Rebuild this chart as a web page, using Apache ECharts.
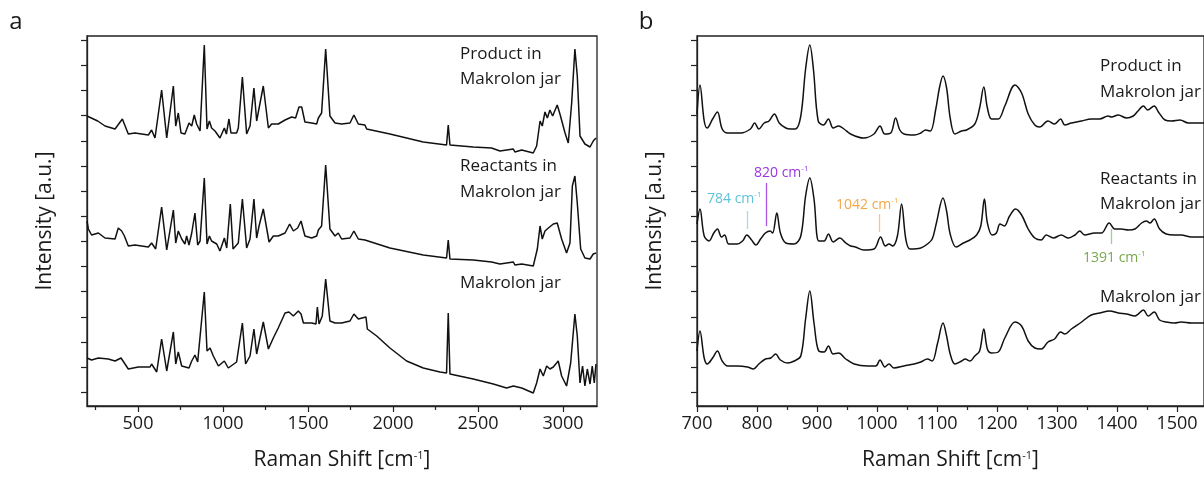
<!DOCTYPE html>
<html>
<head>
<meta charset="utf-8">
<script src="https://cdn.jsdelivr.net/npm/echarts@6/dist/echarts.min.js"></script>
<style>
html,body{margin:0;padding:0;background:#fff;}
#chart{width:1204px;height:479px;}
</style>
</head>
<body>
<div id="chart"></div>
<script>
// ---- Data (wavenumber [cm-1], offset intensity [a.u.]) ----
const seriesNames = ['Product in Makrolon jar', 'Reactants in Makrolon jar', 'Makrolon jar'];

// Panel a: full range
const prodA = [[200,290],[263,285],[306,280],[365,277],[408,287],[443,272],[482,273],[561,271],[580,276],[600,268],[639,316],[669,268],[708,320],[722,280],[737,293],[753,273],[776,272],[800,283],[816,280],[831,291],[845,282],[865,275],[890,361],[906,277],[920,285],[933,278],[953,275],[982,268],[1008,278],[1020,272],[1035,287],[1047,273],[1080,273],[1090,278],[1114,329],[1139,272],[1159,280],[1182,318],[1198,285],[1237,320],[1267,278],[1286,282],[1325,282],[1365,286],[1404,289],[1427,288],[1447,299],[1463,299],[1482,284],[1522,283],[1551,282],[1561,288],[1580,293],[1604,357],[1629,290],[1659,283],[1698,282],[1747,283],[1770,291],[1796,282],[1835,281],[1845,277],[1982,272],[2178,264],[2315,261],[2325,281],[2335,261],[2472,259],[2580,258],[2629,255],[2708,257],[2717,254],[2757,256],[2825,253],[2845,260],[2865,285],[2878,280],[2894,294],[2908,288],[2923,296],[2939,290],[2966,301],[2982,292],[3012,273],[3031,263],[3051,303],[3070,357],[3084,330],[3100,270],[3129,262],[3159,259],[3178,265],[3194,268]];
const reacA = [[200,185],[208,177],[227,171],[267,173],[306,168],[365,167],[384,178],[404,175],[420,170],[443,160],[482,161],[561,159],[580,163],[604,157],[639,199],[669,156],[708,196],[722,163],[737,175],[757,167],[776,162],[786,170],[800,161],[816,173],[835,193],[851,161],[865,165],[890,228],[906,162],[920,170],[933,165],[963,162],[982,155],[1008,168],[1022,158],[1043,202],[1059,157],[1090,163],[1114,207],[1139,158],[1159,167],[1182,207],[1198,168],[1212,180],[1237,197],[1271,164],[1296,170],[1325,170],[1365,173],[1392,182],[1414,175],[1439,178],[1459,185],[1482,170],[1522,168],[1551,170],[1561,176],[1580,180],[1604,241],[1629,177],[1659,170],[1678,173],[1698,167],[1747,168],[1770,175],[1796,167],[1835,166],[1982,158],[2178,151],[2315,148],[2325,166],[2335,147],[2472,146],[2580,144],[2629,142],[2708,144],[2717,141],[2757,142],[2825,140],[2849,157],[2865,180],[2878,167],[2894,175],[2914,178],[2943,182],[2966,183],[2992,167],[3021,153],[3041,163],[3055,220],[3070,230],[3084,203],[3104,157],[3129,148],[3159,147],[3178,152],[3194,153]];
const makA = [[200,48],[227,46],[267,48],[325,47],[365,45],[400,48],[443,37],[502,39],[571,39],[580,42],[610,34],[639,67],[669,35],[708,74],[722,42],[737,54],[757,40],[800,38],[816,45],[835,51],[851,44],[890,114],[906,55],[924,58],[943,50],[973,40],[1008,45],[1031,38],[1080,44],[1114,83],[1133,42],[1159,50],[1182,77],[1198,52],[1237,84],[1267,57],[1296,68],[1325,78],[1365,93],[1388,94],[1414,90],[1443,95],[1459,92],[1473,83],[1522,83],[1547,82],[1555,99],[1565,82],[1584,90],[1604,127],[1629,85],[1659,83],[1698,83],[1747,85],[1770,92],[1796,87],[1841,89],[1849,77],[1904,70],[1982,58],[2080,45],[2178,38],[2276,34],[2315,33],[2325,93],[2335,32],[2472,27],[2590,22],[2668,18],[2708,20],[2757,18],[2825,13],[2845,23],[2865,37],[2884,30],[2904,40],[2923,37],[2943,39],[2972,45],[2992,30],[3021,20],[3045,43],[3070,92],[3084,70],[3100,23],[3115,40],[3129,20],[3143,37],[3159,22],[3172,40],[3184,23],[3194,42]];

// Panel b: fingerprint region
const prodB = [[700,292],[705,321],[712,285],[717,278],[726,287],[734,294],[742,277],[751,273],[773,273],[789,277],[796,283],[803,277],[812,283],[820,285],[829,292],[837,283],[848,278],[856,277],[864,277],[873,290],[881,337],[888,361],[894,337],[902,285],[911,281],[919,287],[927,278],[936,280],[945,277],[956,272],[978,268],[995,272],[1005,280],[1013,272],[1023,273],[1031,288],[1038,276],[1045,272],[1062,271],[1073,273],[1081,276],[1089,275],[1098,297],[1104,318],[1110,330],[1116,318],[1122,288],[1130,272],[1141,275],[1149,276],[1163,282],[1171,298],[1178,319],[1184,298],[1191,287],[1202,287],[1213,300],[1230,321],[1241,313],[1252,292],[1263,281],[1271,279],[1285,285],[1296,282],[1306,287],[1313,281],[1324,283],[1341,285],[1357,287],[1371,287],[1385,290],[1391,289],[1402,291],[1416,288],[1427,290],[1435,295],[1444,300],[1451,296],[1462,300],[1469,294],[1480,286],[1491,285],[1505,286],[1519,283],[1535,283],[1545,283]];
const reacB = [[700,182],[705,197],[712,170],[720,165],[728,173],[734,177],[741,169],[746,171],[753,162],[767,162],[776,165],[783,171],[791,166],[798,161],[806,167],[814,173],[822,175],[826,173],[833,193],[839,173],[848,163],[862,162],[873,170],[881,210],[888,228],[895,207],[903,165],[912,165],[919,172],[927,164],[938,168],[948,163],[956,160],[964,159],[978,156],[995,157],[1006,169],[1014,160],[1020,162],[1026,160],[1034,170],[1041,202],[1048,167],[1055,157],[1073,158],[1084,162],[1092,167],[1099,183],[1110,208],[1116,195],[1122,172],[1132,159],[1144,163],[1155,166],[1166,171],[1173,180],[1179,207],[1184,183],[1192,171],[1199,173],[1205,182],[1212,180],[1221,190],[1231,197],[1241,191],[1252,177],[1263,168],[1274,166],[1282,171],[1294,168],[1307,171],[1319,168],[1330,171],[1338,175],[1346,171],[1363,173],[1374,173],[1387,183],[1396,177],[1407,177],[1419,176],[1430,177],[1441,183],[1449,185],[1455,183],[1462,187],[1471,177],[1482,172],[1496,171],[1507,171],[1524,169],[1545,169]];
const makB = [[700,55],[705,75],[712,48],[717,42],[726,48],[734,55],[742,45],[751,40],[767,40],[784,39],[794,37],[803,42],[814,47],[823,48],[831,52],[839,46],[851,43],[862,45],[873,50],[881,87],[888,115],[895,83],[903,55],[912,54],[919,60],[927,52],[936,53],[948,47],[962,42],[984,40],[998,40],[1005,46],[1013,39],[1020,42],[1028,38],[1045,40],[1062,42],[1073,44],[1084,47],[1092,45],[1101,63],[1110,83],[1116,70],[1122,52],[1130,42],[1141,45],[1147,47],[1155,45],[1163,50],[1171,55],[1178,77],[1184,57],[1191,53],[1202,54],[1213,68],[1230,84],[1241,80],[1252,65],[1263,58],[1274,57],[1285,64],[1296,67],[1306,74],[1313,72],[1324,77],[1341,84],[1357,91],[1371,93],[1388,95],[1402,93],[1416,92],[1430,90],[1444,96],[1452,90],[1462,94],[1471,86],[1482,84],[1496,83],[1507,84],[1524,83],[1545,83]];

// Tick labels / tick positions
const xLabelsA = [500, 1000, 1500, 2000, 2500, 3000];
const xMinorA = [250, 750, 1250, 1750, 2250, 2750];
const xLabelsB = [700, 800, 900, 1000, 1100, 1200, 1300, 1400, 1500];
const xMinorB = [750, 850, 950, 1050, 1150, 1250, 1350, 1450];
const yTicks = [14, 39, 64, 89, 115, 140, 165, 190, 215, 240, 265, 291, 316, 341, 366];

// Peak annotations in panel b
const peakLabels = ['784', '820', '1042', '1391'];
const peakPos = [783, 816, 1004, 1390];
const peakTop = [195, 223, 192, 177];
const peakBottom = [177, 180, 174, 162];
const peakColors = ['#5fc3d7', '#9b35df', '#f3a746', '#79a84c'];
const peakLineColors = ['#a6dbe6', '#a855e3', '#f6c38a', '#a9c894'];

const FONT = '"Open Sans", "Noto Sans", sans-serif';
const INK = '#1a1a1a';

const chart = echarts.init(document.getElementById('chart'), null, {renderer: 'canvas'});

function xMain(grid, min, max, labels, nameGap) {
  return {
    type: 'value', gridIndex: grid, min: min, max: max, position: 'bottom',
    axisLine: {show: true, onZero: false, lineStyle: {color: '#222', width: 1.3}},
    axisTick: {show: true, inside: false, length: 6, customValues: labels, lineStyle: {color: '#222', width: 1.2}},
    axisLabel: {show: true, customValues: labels, showMinLabel: true, showMaxLabel: true, color: INK,
      fontSize: 18, fontFamily: FONT, margin: 9, formatter: v => String(v)},
    splitLine: {show: false},
    name: 'Raman Shift [cm{s|-1}]',
    nameLocation: 'middle', nameGap: nameGap,
    nameTextStyle: {color: INK, fontSize: 21, fontFamily: FONT,
      rich: {s: {fontSize: 11, fontFamily: FONT, color: INK, verticalAlign: 'top', padding: [0, 0, 10, 0]}}}
  };
}
function xMinor(grid, min, max, ticks) {
  return {
    type: 'value', gridIndex: grid, min: min, max: max, position: 'bottom',
    axisLine: {show: false, onZero: false},
    axisTick: {show: true, inside: false, length: 4, customValues: ticks, lineStyle: {color: '#222', width: 1.2}},
    axisLabel: {show: false}, splitLine: {show: false}
  };
}
function yMain(grid) {
  return {
    type: 'value', gridIndex: grid, min: 0, max: 370,
    axisLine: {show: true, onZero: false, lineStyle: {color: '#222', width: 1.3}},
    axisTick: {show: true, inside: false, length: 6, customValues: yTicks, lineStyle: {color: '#222', width: 1.2}},
    axisLabel: {show: false}, splitLine: {show: false},
    name: 'Intensity [a.u.]', nameLocation: 'middle', nameGap: 31,
    nameTextStyle: {color: INK, fontSize: 21, fontFamily: FONT}
  };
}
function lineSeries(data, xi, yi, smooth, extra) {
  return Object.assign({
    type: 'line', data: data, xAxisIndex: xi, yAxisIndex: yi,
    showSymbol: false, symbol: 'none', smooth: smooth,
    lineStyle: {color: '#111', width: 1.5}, silent: true, animation: false
  }, extra || {});
}

const markData = peakLabels.map((l, i) => [
  {coord: [peakPos[i], peakTop[i]], lineStyle: {color: peakLineColors[i], width: 1.3, type: 'solid'}},
  {coord: [peakPos[i], peakBottom[i]]}
]);

function txt(x, y, text, size, color, align) {
  return {type: 'text', x: x, y: y, silent: true,
    style: {text: text, fontSize: size, fontFamily: FONT, fill: color || INK,
      textAlign: align || 'left', textVerticalAlign: 'middle'}};
}
function supTxt(x, y, base, color) {
  return {type: 'text', x: x, y: y, silent: true,
    style: {text: '{n|' + base + ' cm}{s|-1}', fontFamily: FONT, textVerticalAlign: 'middle',
      rich: {n: {fontSize: 14, fontFamily: FONT, fill: color},
             s: {fontSize: 8, fontFamily: FONT, fill: color, verticalAlign: 'top', padding: [0, 0, 8, 0]}}}};
}

const peakTextX = [707, 754, 836, 1083];
const peakTextY = [199, 173, 205, 258];

const option = {
  backgroundColor: '#fff',
  animation: false,
  grid: [
    {left: 87, right: 607, top: 36, bottom: 73, show: true, borderColor: '#222', borderWidth: 1.3, backgroundColor: 'transparent'},
    {left: 697, right: -3, top: 36, bottom: 73, show: true, borderColor: '#222', borderWidth: 1.3, backgroundColor: 'transparent'}
  ],
  xAxis: [
    xMain(0, 200, 3200, xLabelsA, 44),
    xMinor(0, 200, 3200, xMinorA),
    xMain(1, 700, 1545, xLabelsB, 44),
    xMinor(1, 700, 1545, xMinorB)
  ],
  yAxis: [yMain(0), yMain(1)],
  series: [
    lineSeries(prodA, 0, 0, false, {name: seriesNames[0]}),
    lineSeries(reacA, 0, 0, false, {name: seriesNames[1]}),
    lineSeries(makA, 0, 0, false, {name: seriesNames[2]}),
    lineSeries(prodB, 2, 1, 0.35, {name: seriesNames[0]}),
    lineSeries(reacB, 2, 1, 0.35, {name: seriesNames[1],
      markLine: {silent: true, symbol: ['none', 'none'], label: {show: false}, animation: false, data: markData}}),
    lineSeries(makB, 2, 1, 0.35, {name: seriesNames[2]})
  ],
  graphic: [
    txt(16, 22, 'a', 24, INK, 'center'),
    txt(646, 22, 'b', 24, INK, 'center'),
    txt(460, 54, 'Product in', 17),
    txt(460, 79, 'Makrolon jar', 17),
    txt(460, 166, 'Reactants in', 17),
    txt(460, 192, 'Makrolon jar', 17),
    txt(460, 283, 'Makrolon jar', 17),
    txt(1100, 66, 'Product in', 17),
    txt(1100, 92, 'Makrolon jar', 17),
    txt(1100, 179, 'Reactants in', 17),
    txt(1100, 204, 'Makrolon jar', 17),
    txt(1100, 297, 'Makrolon jar', 17)
  ].concat(peakLabels.map((l, i) => supTxt(peakTextX[i], peakTextY[i], l, peakColors[i])))
};
chart.setOption(option);
</script>
</body>
</html>
